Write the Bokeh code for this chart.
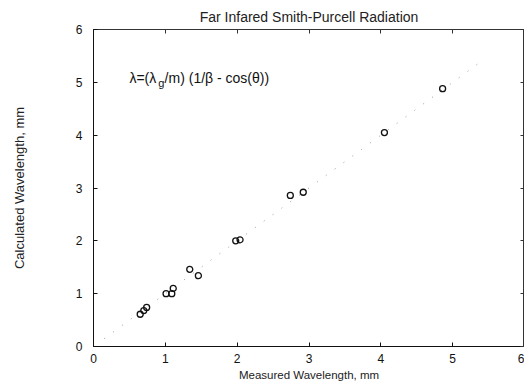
from bokeh.plotting import figure
from bokeh.models import Label, FixedTicker, LinearAxis, Range1d, Title, CustomJSTickFormatter
from bokeh.embed import file_html
from bokeh.resources import INLINE

measured = [0.65, 0.70, 0.74, 1.01, 1.09, 1.11, 1.34, 1.46, 1.98, 2.04, 2.74, 2.92, 4.05, 4.86]
calculated = [0.61, 0.68, 0.74, 1.00, 1.00, 1.10, 1.46, 1.34, 2.00, 2.02, 2.86, 2.92, 4.05, 4.88]
fit_x = [0.15, 5.4]
fit_y = [0.15, 5.4]
ticks = [0, 1, 2, 3, 4, 5, 6]

FONT = "Liberation Sans"

p = figure(width=524, height=383, output_backend="svg", toolbar_location=None,
           x_range=Range1d(0, 6), y_range=Range1d(0, 6),
           min_border_left=93, min_border_right=0, min_border_top=29, min_border_bottom=37,
           background_fill_color="white", border_fill_color="white")
p.title = Title(text="Far Infared Smith-Purcell Radiation", align="center",
                text_font=FONT, text_font_size="14px", text_font_style="normal",
                text_color="#222222", offset=0, standoff=9)
p.grid.visible = False
p.outline_line_color = "#333333"
p.outline_line_width = 1

for ax in (p.xaxis[0], p.yaxis[0]):
    ax.ticker = FixedTicker(ticks=ticks)
    ax.major_tick_in = 4
    ax.major_tick_out = 0
    ax.minor_tick_in = 0
    ax.minor_tick_out = 0
    ax.axis_line_color = "#111111"
    ax.major_tick_line_color = "#111111"
    ax.major_label_text_font = FONT
    ax.major_label_text_font_size = "12px"
    ax.major_label_text_color = "#111111"
    ax.axis_label_text_font = FONT
    ax.axis_label_text_font_style = "normal"
    ax.axis_label_text_color = "#222222"

p.xaxis.axis_label = "Measured Wavelength, mm"
p.xaxis.axis_label_text_font_size = "11.5px"
p.xaxis.major_label_standoff = 7
p.xaxis.axis_label_standoff = 3
p.yaxis.axis_label = "Calculated Wavelength, mm"
p.yaxis.axis_label_text_font_size = "13px"
p.yaxis.major_label_standoff = 11
p.yaxis.axis_label_standoff = 46

blank = CustomJSTickFormatter(code="return ''")
for loc in ("above", "right"):
    ax = LinearAxis(ticker=FixedTicker(ticks=ticks), formatter=blank,
                    major_tick_in=4, major_tick_out=0, minor_tick_in=0, minor_tick_out=0,
                    major_label_standoff=0, axis_line_color="#333333",
                    major_tick_line_color="#333333")
    p.add_layout(ax, loc)

p.line(fit_x, fit_y, line_color="#999999", line_width=1, line_dash="1 10")
p.scatter(measured, calculated, marker="circle", size=6, fill_color=None,
          line_color="#111111", line_width=1.3)

# Formula annotation: λ=(λ_g/m) (1/β - cos(θ))
p.add_layout(Label(x=0.50, y=5.08, text="λ=(λ", text_font=FONT, text_font_size="14px",
                   text_color="#111111", text_baseline="middle"))
p.add_layout(Label(x=0.90, y=4.99, text="g", text_font=FONT, text_font_size="11px",
                   text_color="#111111", text_baseline="middle"))
p.add_layout(Label(x=0.99, y=5.08, text="/m) (1/β - cos(θ))", text_font=FONT, text_font_size="14px",
                   text_color="#111111", text_baseline="middle"))

open("out.html", "w").write(file_html(p, INLINE))
